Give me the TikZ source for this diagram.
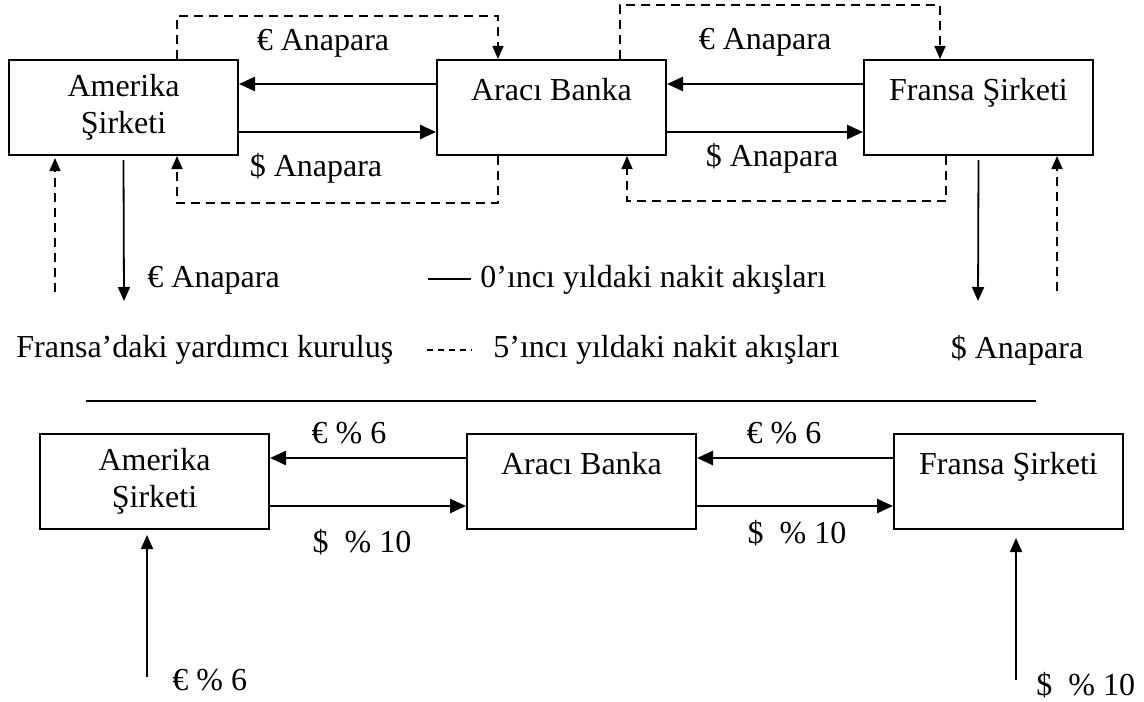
\documentclass[tikz,border=0pt]{standalone}
\usepackage{fontspec}
\setmainfont{Liberation Serif}
\usepackage{tikz}
\usetikzlibrary{arrows.meta, positioning, calc}

\begin{document}
\begin{tikzpicture}[
  x=0.5pt, y=-0.5pt,
  font=\fontsize{16}{18.5}\selectfont,
  firm/.style={
    draw, line width=1pt,
    minimum width=114.5pt, minimum height=47.5pt,
    align=center, inner sep=0pt
  },
  flow/.style={line width=1.3pt, -{Triangle[length=8pt,width=7pt]}},
  thinflow/.style={line width=0.9pt, -{Triangle[length=7pt,width=6pt]}},
  dflow/.style={line width=0.8pt, dash pattern=on 4.5pt off 3pt,
    -{Triangle[length=6.5pt,width=5.5pt]}},
  lbl/.style={inner sep=0pt}
]
  \useasboundingbox (0,0) rectangle (1144,701);

  % --- anapara takasi (0. ve 5. yil)
  \node[firm] (am) at (123.5,107.5) {Amerika\\Şirketi};
  \node[firm] (ab) at (551.5,107.5) {Aracı Banka\\\mbox{}};
  \node[firm] (fr) at (978.5,107.5) {Fransa Şirketi\\\mbox{}};

  \draw[flow] ([yshift=11.75pt]ab.west) -- ([yshift=11.75pt]am.east);
  \draw[flow] ([yshift=-12.25pt]am.east) -- ([yshift=-12.25pt]ab.west);
  \draw[flow] ([yshift=11.75pt]fr.west) -- ([yshift=11.75pt]ab.east);
  \draw[flow] ([yshift=-12.25pt]ab.east) -- ([yshift=-12.25pt]fr.west);

  \draw[dflow] ([xshift=26.75pt]am.north) -- ++(0,-43) -| ([xshift=-26.75pt]ab.north);
  \draw[dflow] ([xshift=-26.75pt]ab.south) -- ++(0,47) -| ([xshift=26.75pt]am.south);
  \draw[dflow] ([xshift=34.25pt]ab.north) -- ++(0,-54) -| ([xshift=-19.25pt]fr.north);
  \draw[dflow] ([xshift=-16.25pt]fr.south) -- ++(0,45) -| ([xshift=37.75pt]ab.south);

  \node[lbl] (lEurA) at (323,43) {€ Anapara};
  \node[lbl] (lUsdA) at (316,168) {\$ Anapara};
  \node[lbl] (lEurB) at (765,42) {€ Anapara};
  \node[lbl] (lUsdB) at (772,158) {\$ Anapara};

  % yan kuruluslar
  \coordinate (amOut) at (124,301);
  \coordinate (amIn) at (55,292);
  \coordinate (frOut) at (978,301);
  \coordinate (frIn) at (1057,291);
  \draw[thinflow] ([yshift=-2pt]am.south) -- (amOut);
  \draw[dflow] (amIn) -- ([xshift=-34.25pt,yshift=-1pt]am.south);
  \draw[thinflow] ([yshift=-2pt]fr.south) -- (frOut);
  \draw[dflow] (frIn) -- ([xshift=39.25pt]fr.south);

  \node[lbl, anchor=west] (lEurSub) at (147,280) {€ Anapara};
  \node[lbl, anchor=west] (sub) at (16,350) {Fransa’daki yardımcı kuruluş};
  \node[lbl] (lUsdSub) at (1017,350) {\$ Anapara};

  % lejant
  \coordinate (k0a) at (428,279);
  \coordinate (k0b) at (471,279);
  \coordinate (k5a) at (427,350);
  \coordinate (k5b) at (472,350);
  \draw[line width=0.8pt] (k0a) -- (k0b);
  \draw[line width=0.7pt, dash pattern=on 3pt off 2.5pt] (k5a) -- (k5b);
  \node[lbl, anchor=west] (key0) at (480,280) {0’ıncı yıldaki nakit akışları};
  \node[lbl, anchor=west] (key5) at (493,350) {5’ıncı yıldaki nakit akışları};

  \coordinate (ruleL) at (86,401);
  \coordinate (ruleR) at (1036,401);
  \draw[line width=0.8pt] (ruleL) -- (ruleR);

  % --- faiz odemeleri
  \node[firm] (am2) at (154.5,481.5) {Amerika\\Şirketi};
  \node[firm] (ab2) at (581.5,481.5) {Aracı Banka\\\mbox{}};
  \node[firm] (fr2) at (1008.5,481.5) {Fransa Şirketi\\\mbox{}};

  \draw[flow] ([yshift=11.75pt]ab2.west) -- ([yshift=11.75pt]am2.east);
  \draw[flow] ([yshift=-12.25pt]am2.east) -- ([yshift=-12.25pt]ab2.west);
  \draw[flow] ([yshift=11.75pt]fr2.west) -- ([yshift=11.75pt]ab2.east);
  \draw[flow] ([yshift=-12.25pt]ab2.east) -- ([yshift=-12.25pt]fr2.west);

  \node[lbl] (lEur6A) at (349,433) {€ \% 6};
  \node[lbl] (lEur6B) at (784,433) {€ \% 6};
  \node[lbl] (lUsd10A) at (362,542) {\$\ \ \% 10};
  \node[lbl] (lUsd10B) at (797,533) {\$\ \ \% 10};

  \coordinate (amFaiz) at (147,677);
  \coordinate (frFaiz) at (1016,680);
  \draw[thinflow] (amFaiz) -- ([xshift=-3.75pt,yshift=-2.5pt]am2.south);
  \draw[thinflow] (frFaiz) -- ([xshift=3.75pt,yshift=-4pt]fr2.south);
  \node[lbl, anchor=west] (lEurSub2) at (172,680) {€ \% 6};
  \node[lbl, anchor=west] (lUsdSub2) at (1036,685) {\$\ \ \% 10};
\end{tikzpicture}
\end{document}
